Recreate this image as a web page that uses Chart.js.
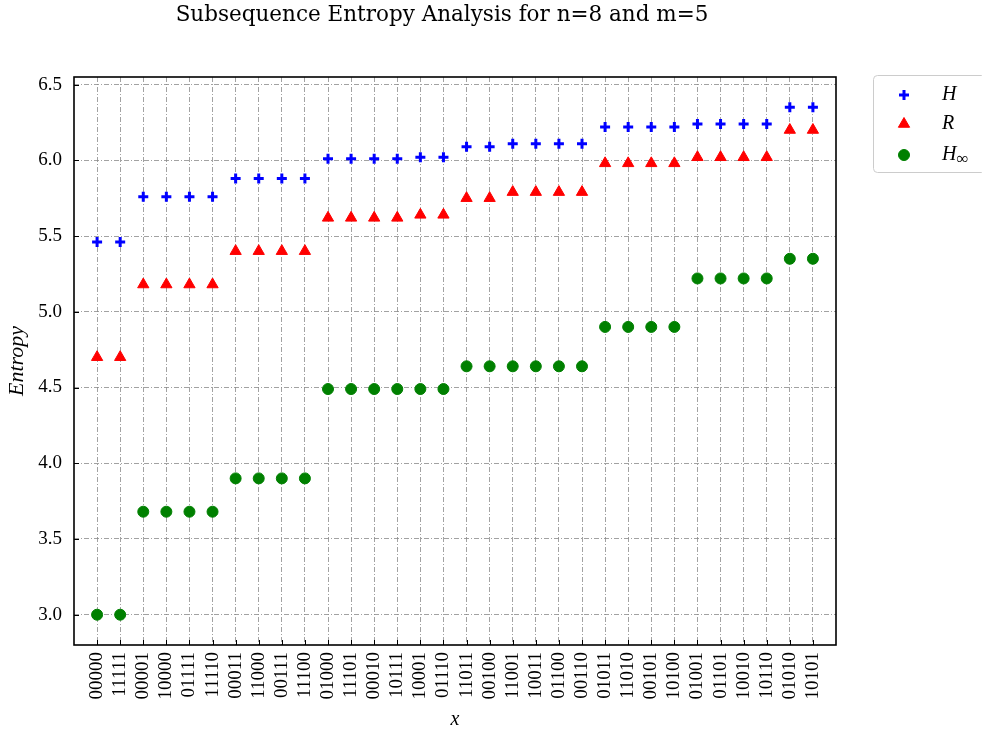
<!DOCTYPE html>
<html>
<head>
<meta charset="utf-8">
<script src="https://cdn.jsdelivr.net/npm/chart.js@4.4.0/dist/chart.umd.min.js"></script>
<style>
  html, body { margin: 0; padding: 0; background: #fff; }
  #wrap { width: 982px; height: 734px; }
</style>
</head>
<body>
<div id="wrap"><canvas id="entropyChart" width="982" height="734"></canvas></div>
<script>
// categories (5-bit subsequences) in plotted order
const categories = [
    '00000', '11111', '00001', '10000', '01111', '11110', '00011', '11000',
    '00111', '11100', '01000', '11101', '00010', '10111', '10001', '01110',
    '11011', '00100', '11001', '10011', '01100', '00110', '01011', '11010',
    '00101', '10100', '01001', '01101', '10010', '10110', '01010', '10101'
];

// H (blue plus)
const hValues = [
    5.46, 5.46, 5.76, 5.76, 5.76, 5.76, 5.88, 5.88,
    5.88, 5.88, 6.01, 6.01, 6.01, 6.01, 6.02, 6.02,
    6.09, 6.09, 6.11, 6.11, 6.11, 6.11, 6.22, 6.22,
    6.22, 6.22, 6.24, 6.24, 6.24, 6.24, 6.35, 6.35
];

// R (red triangle)
const rValues = [
    4.70, 4.70, 5.18, 5.18, 5.18, 5.18, 5.40, 5.40,
    5.40, 5.40, 5.62, 5.62, 5.62, 5.62, 5.64, 5.64,
    5.75, 5.75, 5.79, 5.79, 5.79, 5.79, 5.98, 5.98,
    5.98, 5.98, 6.02, 6.02, 6.02, 6.02, 6.20, 6.20
];

// H_inf (green circle)
const hInfValues = [
    3.00, 3.00, 3.68, 3.68, 3.68, 3.68, 3.90, 3.90,
    3.90, 3.90, 4.49, 4.49, 4.49, 4.49, 4.49, 4.49,
    4.64, 4.64, 4.64, 4.64, 4.64, 4.64, 4.90, 4.90,
    4.90, 4.90, 5.22, 5.22, 5.22, 5.22, 5.35, 5.35
];

const yTicks = [3.0, 3.5, 4.0, 4.5, 5.0, 5.5, 6.0, 6.5];

const serif = "'Liberation Serif', serif";

function toPoints(vals) {
    return vals.map((v, i) => ({ x: i, y: v }));
}

// matplotlib style frame + inward ticks
const framePlugin = {
    id: 'frame',
    afterDraw(chart) {
        const ctx = chart.ctx;
        const a = chart.chartArea;
        ctx.save();
        ctx.strokeStyle = '#000';
        ctx.lineWidth = 1;
        const xs = chart.scales.x, ys = chart.scales.y;
        ctx.beginPath();
        ys.ticks.forEach(t => {
            const py = Math.round(ys.getPixelForValue(t.value)) + 0.5;
            ctx.moveTo(a.left, py); ctx.lineTo(a.left + 5, py);
        });
        xs.ticks.forEach(t => {
            const px = Math.round(xs.getPixelForValue(t.value)) + 0.5;
            ctx.moveTo(px, a.bottom); ctx.lineTo(px, a.bottom - 5);
        });
        ctx.stroke();
        ctx.lineWidth = 1.6;
        ctx.strokeRect(a.left, a.top, a.right - a.left, a.bottom - a.top);
        ctx.restore();
    }
};

// title + legend box outside the axes
const decorPlugin = {
    id: 'decor',
    afterDraw(chart) {
        const ctx = chart.ctx;
        const a = chart.chartArea;
        ctx.save();
        ctx.fillStyle = '#000';
        ctx.font = "21.5px 'DejaVu Serif', serif";
        ctx.textAlign = 'center';
        ctx.textBaseline = 'middle';
        ctx.fillText('Subsequence Entropy Analysis for n=8 and m=5', 442, 15);

        // legend
        const lx = a.right + 37, ly = 75, lw = 112, lh = 97;
        ctx.strokeStyle = '#cccccc';
        ctx.lineWidth = 1;
        ctx.beginPath();
        ctx.roundRect(lx + 0.5, ly + 0.5, lw, lh, 4);
        ctx.fillStyle = 'rgba(255,255,255,0.8)';
        ctx.fill();
        ctx.stroke();
        const rows = [95, 124, 155];
        chart.data.datasets.forEach((ds, i) => {
            ctx.fillStyle = ds.color;
            ctx.strokeStyle = ds.color;
            ctx.lineWidth = ds.pointBorderWidth;
            Chart.helpers.drawPoint(ctx, {
                pointStyle: ds.pointStyle,
                radius: ds.pointRadius,
                borderWidth: ds.pointBorderWidth
            }, lx + 31, rows[i]);
            ctx.fillStyle = '#000';
            ctx.textAlign = 'left';
            ctx.font = "italic 20px " + serif;
            ctx.fillText(ds.label, lx + 69, rows[i]);
            if (ds.sub) {
                const w = ctx.measureText(ds.label).width;
                ctx.font = "17px " + serif;
                ctx.fillText(ds.sub, lx + 69 + w, rows[i] + 5);
            }
        });
        ctx.restore();
    }
};

function applyPointStyle(ds) {
    ds.pointBackgroundColor = ds.color;
    ds.pointBorderColor = ds.color;
    ds.backgroundColor = ds.color;
    ds.borderColor = ds.color;
    return ds;
}

const datasets = [
    applyPointStyle({ label: 'H', data: toPoints(hValues), color: 'rgb(0,0,255)',
        pointStyle: 'cross', pointRadius: 5, pointBorderWidth: 3, pointHoverRadius: 5 }),
    applyPointStyle({ label: 'R', data: toPoints(rValues), color: 'rgb(255,0,0)',
        pointStyle: 'triangle', pointRadius: 6.5, pointBorderWidth: 1, pointHoverRadius: 6.5 }),
    applyPointStyle({ label: 'H', sub: '\u221e', data: toPoints(hInfValues), color: 'rgb(0,128,0)',
        pointStyle: 'circle', pointRadius: 5.5, pointBorderWidth: 1, pointHoverRadius: 5.5 })
];

const config = {
    type: 'scatter',
    data: { datasets: datasets },
    options: {
        responsive: false,
        animation: false,
        layout: { padding: { top: 77, right: 146, left: 0, bottom: 0 } },
        scales: {
            x: {
                type: 'linear',
                min: -1,
                max: categories.length,
                afterBuildTicks: (scale) => {
                    scale.ticks = categories.map((c, i) => ({ value: i }));
                },
                afterFit: (scale) => { scale.height = 89; },
                ticks: {
                    autoSkip: false,
                    minRotation: 90,
                    maxRotation: 90,
                    padding: 7,
                    color: '#000',
                    font: { family: serif, size: 19 },
                    callback: (value) => categories[value]
                },
                grid: { color: '#8a8a8a', lineWidth: 0.8, drawTicks: false },
                border: { display: false, dash: [5, 2, 1, 2] },
                title: {
                    display: true,
                    text: 'x',
                    color: '#000',
                    font: { family: serif, size: 20, style: 'italic' },
                    padding: { top: 0, bottom: 2 }
                }
            },
            y: {
                min: 2.8,
                max: 6.55,
                afterBuildTicks: (scale) => {
                    scale.ticks = yTicks.map(v => ({ value: v }));
                },
                afterFit: (scale) => { scale.width = 74; },
                ticks: {
                    padding: 12,
                    color: '#000',
                    font: { family: serif, size: 19 },
                    callback: (value) => value.toFixed(1)
                },
                grid: { color: '#8a8a8a', lineWidth: 0.8, drawTicks: false },
                border: { display: false, dash: [5, 2, 1, 2] },
                title: {
                    display: true,
                    text: 'Entropy',
                    color: '#000',
                    font: { family: serif, size: 22, style: 'italic' },
                    padding: { top: 4, bottom: 0 }
                }
            }
        },
        plugins: {
            legend: { display: false },
            title: { display: false },
            tooltip: { enabled: false }
        }
    },
    plugins: [framePlugin, decorPlugin]
};

// make sure the serif faces are ready before the canvas uses them
Promise.all([
    document.fonts.load("19px 'Liberation Serif'"),
    document.fonts.load("italic 20px 'Liberation Serif'"),
    document.fonts.load("21.5px 'DejaVu Serif'")
]).catch(() => {}).then(() => {
    new Chart(document.getElementById('entropyChart'), config);
});
</script>
</body>
</html>
